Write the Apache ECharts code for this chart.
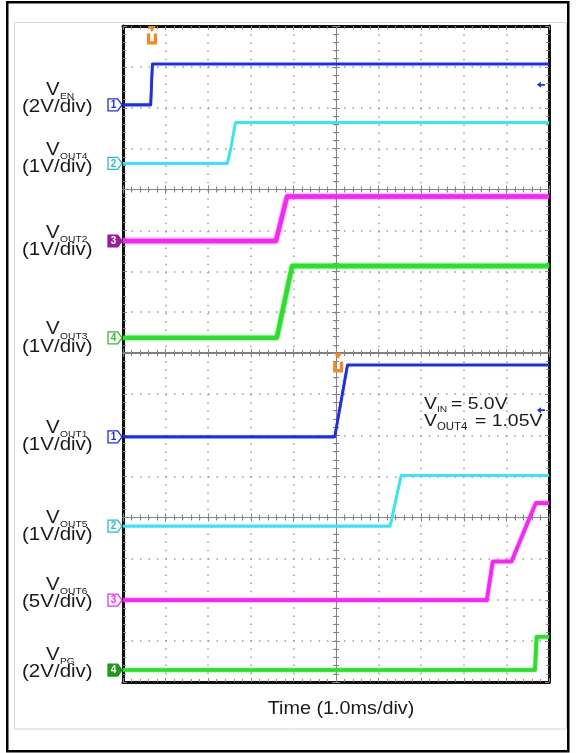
<!DOCTYPE html>
<html>
<head>
<meta charset="utf-8">
<script src="https://cdn.jsdelivr.net/npm/echarts@6/dist/echarts.min.js"></script>
<style>
html,body{margin:0;padding:0;background:#fff;}
#c{width:576px;height:753px;}
</style>
</head>
<body>
<div id="c"></div>
<script>
// ---- DATA (time in ms relative to screen centre, 1.0 ms/div; level in divisions from screen centre) ----
const timeRange = [-5, 5];
const levelRange = [-4, 4];

// Upper capture
const vEN   = [[-5, 2.07], [-4.35, 2.07], [-4.31, 3.07], [5, 3.07]];
const vOUT4 = [[-5, 0.64], [-2.55, 0.64], [-2.47, 1.0], [-2.36, 1.64], [5, 1.64]];
const vOUT2 = [[-5, -1.26], [-1.41, -1.26], [-1.15, -0.17], [5, -0.17]];
const vOUT3 = [[-5, -3.63], [-1.39, -3.63], [-1.03, -1.87], [5, -1.87]];

// Lower capture
const vOUT1 = [[-5, 1.96], [-0.03, 1.96], [0.27, 3.71], [5, 3.71]];
const vOUT5 = [[-5, -0.21], [1.27, -0.21], [1.53, 1.02], [5, 1.02]];
const vOUT6 = [[-5, -2.01], [3.54, -2.01], [3.68, -1.07], [4.12, -1.07], [4.69, 0.35], [5, 0.35]];
const vPG   = [[-5, -3.71], [4.67, -3.71], [4.71, -2.90], [5, -2.90]];

// Channel labels
const labelSubs   = ['EN', 'OUT4', 'OUT2', 'OUT3', 'OUT1', 'OUT5', 'OUT6', 'PG'];
const labelScales = ['(2V/div)', '(1V/div)', '(1V/div)', '(1V/div)', '(1V/div)', '(1V/div)', '(5V/div)', '(2V/div)'];
const channelNums = ['1', '2', '3', '4', '1', '2', '3', '4'];
const triggerPosA = [-4.32, 3.68];
const triggerPosB = [0.05, 3.66];
const refArrowA = [4.81, 2.56];
const refArrowB = [4.81, 2.61];
const timeTitle = 'Time (1.0ms/div)';
const noteLines = [['IN', '= 5.0V'], ['OUT4', '= 1.05V']];

// ---- STYLE / LAYOUT ----
const GRAY = '#858585', DOT = '#9c9c9c', BLACK = '#111';
const FONT = '"Liberation Sans", Arial, sans-serif';
const SX = 1.14;
const colors = {
  blue: '#1f30d4', cyan: '#3fe0ef', magenta: '#ee2cee', green: '#30dc30',
  purpleFill: '#9b1d9b', greenFill: '#1c9a1c', orange: '#f08a24'
};

function axis(dim, grid, pos, opts) {
  const r = dim === 'x' ? timeRange : levelRange;
  const a = {
    type: 'value', gridIndex: grid, position: pos, min: r[0], max: r[1], interval: 1,
    silent: true,
    axisLabel: { show: false },
    axisTick: { show: true, inside: true, length: 4, lineStyle: { color: GRAY, width: 1 } },
    minorTick: { show: true, splitNumber: 5, length: 3, lineStyle: { color: GRAY, width: 1 } },
    splitLine: { show: false },
    minorSplitLine: { show: false },
    axisLine: { show: true, onZero: false, lineStyle: { color: opts.color || GRAY, width: opts.width || 1 } }
  };
  if (opts.zeroIdx != null) {
    a.axisLine.onZero = true;
    a.axisLine.onZeroAxisIndex = opts.zeroIdx;
  }
  if (opts.split) {
    a.splitLine = { show: true, lineStyle: { color: DOT, width: 1.5, type: dim === 'x' ? [1.5, 6.7] : [1.5, 7.0] } };
  }
  return a;
}

const xAxes = [
  axis('x', 0, 'bottom', { zeroIdx: 0, split: true }),
  axis('x', 0, 'top', { zeroIdx: 1 }),
  axis('x', 1, 'bottom', { color: '#777', width: 1.5 }),
  axis('x', 1, 'top', { color: BLACK, width: 3 }),
  axis('x', 2, 'bottom', { zeroIdx: 4, split: true }),
  axis('x', 2, 'top', { zeroIdx: 5 }),
  axis('x', 3, 'top', { color: '#777', width: 1.5 }),
  axis('x', 3, 'bottom', { color: BLACK, width: 3 })
];
const yAxes = [
  axis('y', 0, 'left', { zeroIdx: 0, split: true }),
  axis('y', 0, 'right', { zeroIdx: 1 }),
  axis('y', 1, 'left', { color: BLACK, width: 3 }),
  axis('y', 1, 'right', { color: BLACK, width: 3 }),
  axis('y', 2, 'left', { zeroIdx: 4, split: true }),
  axis('y', 2, 'right', { zeroIdx: 5 }),
  axis('y', 3, 'left', { color: BLACK, width: 3 }),
  axis('y', 3, 'right', { color: BLACK, width: 3 })
];

const CH_PATH = 'path://M0,0L9,0L13,5.5L9,11L0,11Z';
function chMarker(coordY, num, color, filled) {
  return {
    coord: [timeRange[0], coordY], symbol: CH_PATH, symbolSize: [14, 12], symbolOffset: [-8, 0],
    itemStyle: { color: filled ? color : '#fff', borderColor: color, borderWidth: 1.2 },
    label: { show: true, position: 'inside', formatter: num, color: filled ? '#fff' : color, fontSize: 10, fontWeight: 'bold', fontFamily: FONT, offset: [-1.5, 0.5] }
  };
}
function trigMarkers(pos) {
  return [
    { coord: pos, symbol: 'path://M0,0H3.2V7H6.8V0H10V10H0Z', symbolSize: [10, 11],
      itemStyle: { color: colors.orange }, label: { show: false } },
    { coord: [pos[0], levelRange[1]], symbol: 'triangle', symbolRotate: 180, symbolSize: [8, 6], symbolOffset: [0, 3],
      itemStyle: { color: colors.orange }, label: { show: false } }
  ];
}
function refArrow(pos, color) {
  return { coord: pos, symbol: 'path://M0,3L4,0L4,2.2L8,2.2L8,3.8L4,3.8L4,6Z', symbolSize: [8, 6],
    itemStyle: { color: color }, label: { show: false } };
}

function trace(name, data, color, width, xi, yi, marks, fuzz) {
  const ls = { color: color, width: width, join: 'round' };
  if (fuzz) { ls.shadowColor = color; ls.shadowBlur = fuzz; }
  return {
    type: 'line', name: name, data: data, xAxisIndex: xi, yAxisIndex: yi,
    showSymbol: false, symbol: 'none', silent: true, z: 3,
    lineStyle: ls, itemStyle: { color: color },
    markPoint: { silent: true, animation: false, data: marks }
  };
}

const series = [
  trace('VEN', vEN, colors.blue, 2.6, 0, 0,
    [chMarker(vEN[0][1], channelNums[0], colors.blue, false)].concat(trigMarkers(triggerPosA), [refArrow(refArrowA, colors.blue)]), 1),
  trace('VOUT4', vOUT4, colors.cyan, 2.6, 0, 0, [chMarker(vOUT4[0][1], channelNums[1], '#2fb8c4', false)], 1),
  trace('VOUT2', vOUT2, colors.magenta, 4.4, 0, 0, [chMarker(vOUT2[0][1], channelNums[2], colors.purpleFill, true)], 2.5),
  trace('VOUT3', vOUT3, colors.green, 4.4, 0, 0, [chMarker(vOUT3[0][1], channelNums[3], '#37b837', false)], 2.5),
  trace('VOUT1', vOUT1, colors.blue, 2.6, 4, 4,
    [chMarker(vOUT1[0][1], channelNums[4], colors.blue, false)].concat(trigMarkers(triggerPosB), [refArrow(refArrowB, colors.blue)]), 1),
  trace('VOUT5', vOUT5, colors.cyan, 2.6, 4, 4, [chMarker(vOUT5[0][1], channelNums[5], '#2fb8c4', false)], 1),
  trace('VOUT6', vOUT6, colors.magenta, 3.6, 4, 4, [chMarker(vOUT6[0][1], channelNums[6], colors.magenta, false)], 2),
  trace('VPG', vPG, colors.green, 3.6, 4, 4, [chMarker(vPG[0][1], channelNums[7], colors.greenFill, true)], 2)
];

// text annotations (left labels)
const labelY = [90, 150, 233, 329.5, 428, 518, 585, 655];
const graphics = [
  { type: 'rect', silent: true, shape: { x: 7.25, y: 2.25, width: 561, height: 749 },
    style: { fill: null, stroke: '#000', lineWidth: 2.5 } },
  { type: 'rect', silent: true, shape: { x: 14.5, y: 22.5, width: 552, height: 706.5 },
    style: { fill: null, stroke: '#d4d4d4', lineWidth: 1 } }
];
function txt(x, y, text, size, sx) {
  return { type: 'text', silent: true, x: x, y: y, scaleX: sx || SX, z: 10,
    style: { text: text, font: size + 'px ' + FONT, fill: '#1a1a1a', textAlign: 'left', textVerticalAlign: 'middle', verticalAlign: 'middle' } };
}
labelSubs.forEach(function (sub, i) {
  const c = labelY[i];
  graphics.push(txt(46, c, 'V', 18));
  graphics.push(txt(60, c + 7, sub, 9));
  graphics.push(txt(22, c + 17.5, labelScales[i], 18));
});
// condition note
graphics.push(txt(424, 404, 'V', 17));
graphics.push(txt(437, 410, noteLines[0][0], 9));
graphics.push(txt(451, 404, noteLines[0][1], 17));
graphics.push(txt(424, 421, 'V', 17));
graphics.push(txt(437, 427, noteLines[1][0], 10));
graphics.push(txt(475, 421, noteLines[1][1], 17));
// time title
graphics.push({ type: 'text', silent: true, x: 341, y: 709, scaleX: 1.1, z: 10,
  style: { text: timeTitle, font: '18px ' + FONT, fill: '#1a1a1a', textAlign: 'center', textVerticalAlign: 'middle', verticalAlign: 'middle' } });

const chart = echarts.init(document.getElementById('c'), null, { renderer: 'canvas' });
chart.setOption({
  animation: false,
  backgroundColor: '#fff',
  grid: [
    { left: 123, top: 26, width: 426, height: 327 },
    { left: 123, top: 26, width: 426, height: 327 },
    { left: 123, top: 353, width: 426, height: 329 },
    { left: 123, top: 353, width: 426, height: 329 }
  ],
  xAxis: xAxes,
  yAxis: yAxes,
  series: series,
  graphic: graphics
});
</script>
</body>
</html>
